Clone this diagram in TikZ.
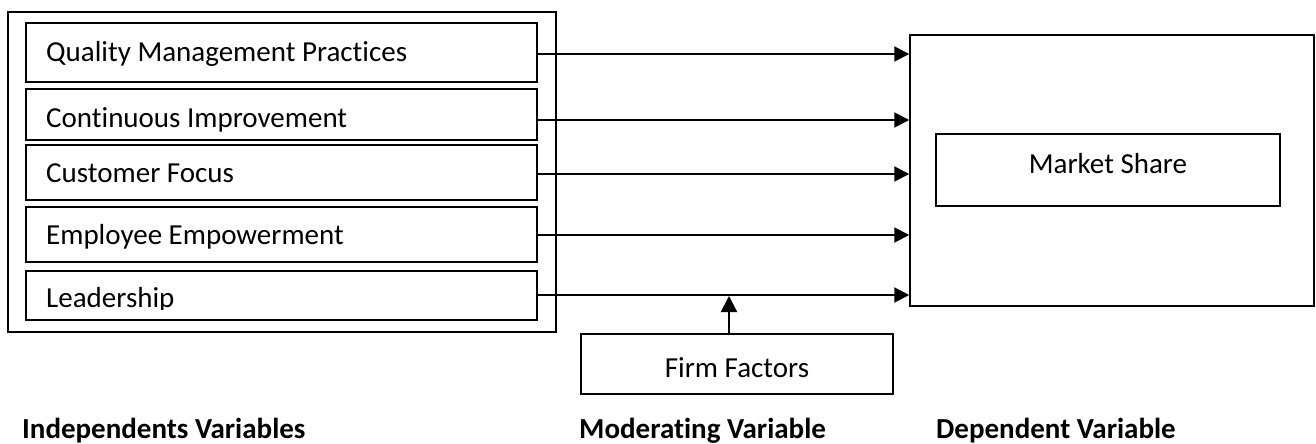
\documentclass[tikz,border=0pt]{standalone}
\usepackage{fontspec}
\setmainfont{Carlito}[Ligatures=CommonOff,Contextuals=AlternateOff]
\usetikzlibrary{arrows.meta,calc}
\begin{document}
\begin{tikzpicture}[x=1pt,y=-1pt,
  box/.style={draw, line width=1.3pt, minimum width=#1, inner sep=0pt},
  lbl/.style={anchor=base west, inner sep=0pt, font=\fontsize{29}{34}\selectfont},
  foot/.style={anchor=base west, inner sep=0pt, font=\fontsize{29}{34}\selectfont\bfseries},
  arr/.style={line width=2pt, -{Triangle[length=15pt,width=15pt]}}]
\useasboundingbox (0,0) rectangle (1316,444);
% outer box
\node[draw, line width=2pt, minimum width=548pt, minimum height=320pt, inner sep=0pt] (outer) at (282,172) {};
% inner boxes
\node[box=511pt, minimum height=59pt] (b1) at (281.5,52.5) {};
\node[box=511pt, minimum height=51pt] (b2) at (281.5,114.5) {};
\node[box=511pt, minimum height=55pt] (b3) at (281.5,172.5) {};
\node[box=511pt, minimum height=55pt] (b4) at (281.5,234.5) {};
\node[box=511pt, minimum height=49pt] (b5) at (281.5,295.5) {};
\node[lbl] (t1) at (46,61) {Quality Management Practices};
\node[lbl] (t2) at (46,127) {Cont\kern0pt inuous Improvement};
\node[lbl] (t3) at (46,182) {Customer Focus};
\node[lbl] (t4) at (46,244) {Employee Empowerment};
\begin{scope}
\clip (27,272) rectangle (536,309);
\node[lbl] (t5) at (46,307) {Leadership};
\end{scope}
% dependent box
\node[draw, line width=1.5pt, minimum width=404pt, minimum height=271pt, inner sep=0pt] (dep) at (1112,170.5) {};
\node[box=344pt, minimum height=72pt] (ms) at (1108,170) {};
\node[anchor=center, inner sep=0pt, font=\fontsize{29}{34}\selectfont] (mst) at (1108,164) {Market Share};
% firm factors
\node[box=312pt, minimum height=60pt] (ff) at (737,364) {};
\node[anchor=center, inner sep=0pt, font=\fontsize{29}{34}\selectfont] (fft) at (737,368) {Firm Factors};
% arrows
\draw[arr] (b1.east |- 0,54) -- (dep.west |- 0,54);
\draw[arr] (b2.east |- 0,120) -- (dep.west |- 0,120);
\draw[arr] (b3.east |- 0,174) -- (dep.west |- 0,174);
\draw[arr] (b4.east |- 0,235) -- (dep.west |- 0,235);
\draw[arr] (b5.east |- 0,295) -- (dep.west |- 0,295);
\coordinate (mod) at (729,296);
\draw[line width=2pt, -{Triangle[length=16pt,width=16pt]}] (ff.north -| mod) -- (mod);
% footers
\node[foot] (f1) at (22,438) {Independents Variables};
\node[foot] (f2) at (579,438) {Moderat\kern0pt ing Variable};
\node[foot] (f3) at (936,438) {Dependent Variable};
\end{tikzpicture}
\end{document}
